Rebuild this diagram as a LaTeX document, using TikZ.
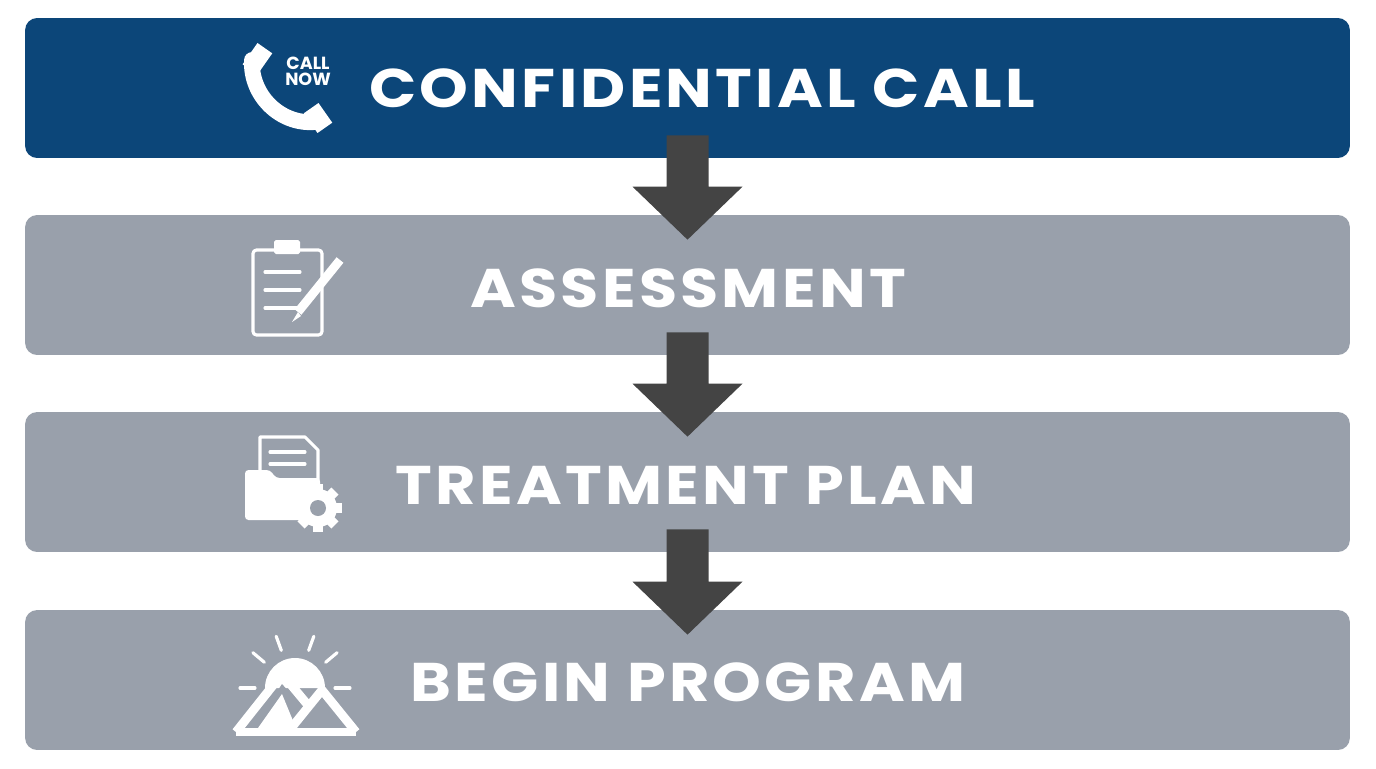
\documentclass[tikz,border=0pt]{standalone}
\usepackage{fontspec}
\setmainfont{Poppins}
\usetikzlibrary{positioning,calc}

\definecolor{callblue}{HTML}{0C4679}
\definecolor{stepgray}{HTML}{99A0AB}
\definecolor{arrowgray}{HTML}{444444}

\tikzset{
  stage/.style={rectangle, rounded corners=12*0.02cm, minimum width=26.5cm, minimum height=2.8cm, inner sep=0pt, fill=stepgray},
  stagelabel/.style={text=white, font=\bfseries\addfontfeatures{FakeStretch=1.14, LetterSpace=6}\fontsize{31}{31}\selectfont},
  icon/.style={draw=white, line width=1.8pt, line join=round, line cap=round},
  blockarrow/.style={fill=arrowgray}
}

% block arrow from the bottom of one step to the top of the next
\newcommand{\flowarrow}[2]{%
  \fill[blockarrow] ($(#1.south)+(-21,-23)$) -- ($(#1.south)+(21,-23)$)
    -- ($(#2.north)+(21,-28)$) -- ($(#2.north)+(55,-28)$)
    -- ($(#2.north)+(0,25)$) -- ($(#2.north)+(-55,-28)$)
    -- ($(#2.north)+(-21,-28)$) -- cycle;}

\begin{document}
\begin{tikzpicture}[x=0.02cm, y=-0.02cm]
\fill[white] (0,0) rectangle (1376,768);

% ============ STEPS ============
\node[stage, fill=callblue] (call) at (687.5,88) {};
\node[stage] (assess) at (687.5,285) {};
\node[stage] (plan) at (687.5,482) {};
\node[stage] (begin) at (687.5,680) {};

\node[stagelabel] (call-text) at (702,88) {CONFIDENTIAL CALL};
\node[stagelabel] (assess-text) at (688,288) {ASSESSMENT};
\node[stagelabel] (plan-text) at (686,485) {TREATMENT PLAN};
\node[stagelabel] (begin-text) at (688,682) {BEGIN PROGRAM};

% ============ ICONS ============
% phone
\draw[white, line width=9pt, line cap=round] (252,60) .. controls (250,95) and (280,125) .. (315,122);
\fill[white, rotate around={-35:(258,58)}] (249,46) rectangle (267,72);
\fill[white, rotate around={-55:(318,118)}] (306,109) rectangle (330,127);
\node[text=white, font=\bfseries\fontsize{10}{10}\selectfont, align=center] (call-now) at (308,71) {CALL\\[-1pt]NOW};
% clipboard
\draw[icon, rounded corners=2pt] (253,250) rectangle (322,335);
\fill[white, rounded corners=1pt] (274,240) rectangle (300,254);
\foreach \y in {272,290,308} \draw[icon] (265,\y) -- (300,\y);
\draw[white, line width=5pt] (340,260) -- (298,312);
\fill[white] (298,312) -- (292,322) -- (301,316) -- cycle;
% folder with gear
\draw[icon, fill=stepgray] (260,437) -- (305,437) -- (318,450) -- (318,488) -- (260,488) -- cycle;
\foreach \y in {452,464} \draw[icon] (270,\y) -- (305,\y);
\fill[white, rounded corners=2pt] (245,470) -- (270,470) -- (276,478) -- (320,478) -- (320,520) -- (245,520) -- cycle;
\fill[white] (318,508) circle (19);
\foreach \a in {0,45,...,315} \fill[white, rotate around={\a:(318,508)}] (313,484) rectangle (323,492);
\fill[stepgray] (318,508) circle (8);
% sun over mountains
\fill[white] (265,688) arc (180:360:30) -- cycle;
\foreach \a in {0,40,70,110,140,180} \draw[icon] ($(295,688)+(\a:-40)$) -- ($(295,688)+(\a:-55)$);
\fill[stepgray] (250,732) -- (282,684) -- (305,710) -- (322,696) -- (350,732) -- cycle;
\draw[white, line width=5pt, line join=round] (236,732) -- (282,674) -- (307,704);
\draw[white, line width=5pt, line join=round] (288,732) -- (322,690) -- (356,732);
\draw[white, line width=5pt] (236,732) -- (356,732);
\fill[white] (282,694) -- (258,728) -- (296,728) -- cycle;

% ============ ARROWS ============
\flowarrow{call}{assess}
\flowarrow{assess}{plan}
\flowarrow{plan}{begin}
\end{tikzpicture}
\end{document}
